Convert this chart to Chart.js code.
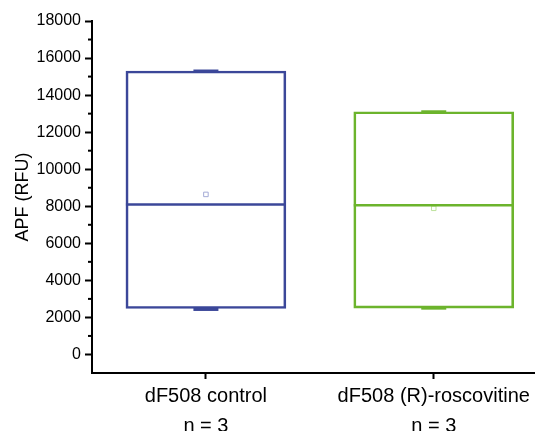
<!DOCTYPE html>
<html>
<head>
<meta charset="utf-8">
<script src="https://cdn.jsdelivr.net/npm/chart.js@4"></script>
<style>
  html, body { margin: 0; padding: 0; background: #fff; }
  #wrap { width: 539px; height: 431px; }
</style>
</head>
<body>
<div id="wrap"><canvas id="chart"></canvas></div>
<script>
// Data
const categories = ['dF508 control', 'dF508 (R)-roscovitine'];
const sampleSizes = ['n = 3', 'n = 3'];
const q1 = [2480, 2500];
const q3 = [15300, 13100];
const medians = [8100, 8050];
const means = [8640, 7890];
const mins = [2430, 2500];
const maxs = [15300, 13100];
const yTicks = [0, 2000, 4000, 6000, 8000, 10000, 12000, 14000, 16000, 18000];
const yMinorTicks = [1000, 3000, 5000, 7000, 9000, 11000, 13000, 15000, 17000];

const colors = ['#3B4799', '#6CB42C'];
const meanColors = ['#A3AAD6', '#BDE29C'];
const positions = categories.map((c, i) => i + 1);

// Median lines, whisker caps and minor y ticks
const boxExtras = {
    id: 'boxExtras',
    afterDatasetsDraw(chart) {
        const ctx = chart.ctx;
        const y = chart.scales.y;
        const meta = chart.getDatasetMeta(0);
        ctx.save();
        meta.data.forEach((bar, i) => {
            const half = bar.width / 2;
            ctx.strokeStyle = colors[i];
            ctx.lineWidth = 2.5;
            ctx.beginPath();
            const ym = y.getPixelForValue(medians[i]);
            ctx.moveTo(bar.x - half, ym);
            ctx.lineTo(bar.x + half, ym);
            ctx.stroke();
            ctx.lineWidth = 3;
            [mins[i], maxs[i]].forEach(v => {
                const yp = y.getPixelForValue(v);
                ctx.beginPath();
                ctx.moveTo(bar.x - 12.5, yp);
                ctx.lineTo(bar.x + 12.5, yp);
                ctx.stroke();
            });
        });
        // minor ticks on the y axis
        ctx.strokeStyle = '#000';
        ctx.lineWidth = 2;
        const left = chart.chartArea.left;
        yMinorTicks.forEach(v => {
            const yp = y.getPixelForValue(v);
            ctx.beginPath();
            ctx.moveTo(left - 4, yp);
            ctx.lineTo(left, yp);
            ctx.stroke();
        });
        ctx.restore();
    }
};

new Chart(document.getElementById('chart'), {
    type: 'bar',
    data: {
        datasets: [{
            type: 'bar',
            data: positions.map((p, i) => ({ x: p, y: [q1[i], q3[i]] })),
            backgroundColor: 'rgba(0,0,0,0)',
            borderColor: colors,
            borderWidth: 2,
            borderSkipped: false,
            barThickness: 160
        }, {
            type: 'scatter',
            data: positions.map((p, i) => ({ x: p, y: means[i] })),
            pointStyle: 'rect',
            pointRadius: 3.2,
            pointBorderWidth: 1,
            pointBorderColor: meanColors,
            pointBackgroundColor: '#fff'
        }]
    },
    options: {
        responsive: true,
        maintainAspectRatio: false,
        animation: false,
        layout: { padding: { top: 21, right: 0, left: 0, bottom: 0 } },
        plugins: {
            legend: { display: false },
            tooltip: { enabled: false }
        },
        scales: {
            x: {
                type: 'linear',
                min: 0.5,
                max: 2.44,
                offset: false,
                afterBuildTicks: s => { s.ticks = positions.map(p => ({ value: p })); },
                afterFit: s => { s.height = 58; },
                ticks: {
                    autoSkip: false,
                    maxRotation: 0,
                    color: '#000',
                    padding: 2,
                    font: { family: 'Liberation Sans', size: 20, lineHeight: 1.5 },
                    callback: v => [categories[v - 1], sampleSizes[v - 1]]
                },
                grid: { drawOnChartArea: false, offset: false, tickLength: 6, tickWidth: 2, tickColor: '#000' },
                border: { color: '#000', width: 2 }
            },
            y: {
                min: -1000,
                max: 18000,
                afterBuildTicks: s => { s.ticks = yTicks.map(v => ({ value: v })); },
                afterFit: s => { s.width = 92; },
                ticks: {
                    color: '#000',
                    padding: 4,
                    font: { family: 'Liberation Sans', size: 16 },
                    callback: v => String(v)
                },
                grid: { drawOnChartArea: false, tickLength: 7, tickWidth: 2, tickColor: '#000' },
                border: { color: '#000', width: 2 },
                title: {
                    display: true,
                    text: 'APF (RFU)',
                    color: '#000',
                    padding: { top: 12, bottom: 0 },
                    font: { family: 'Liberation Sans', size: 18 }
                }
            }
        }
    },
    plugins: [boxExtras]
});
</script>
</body>
</html>
